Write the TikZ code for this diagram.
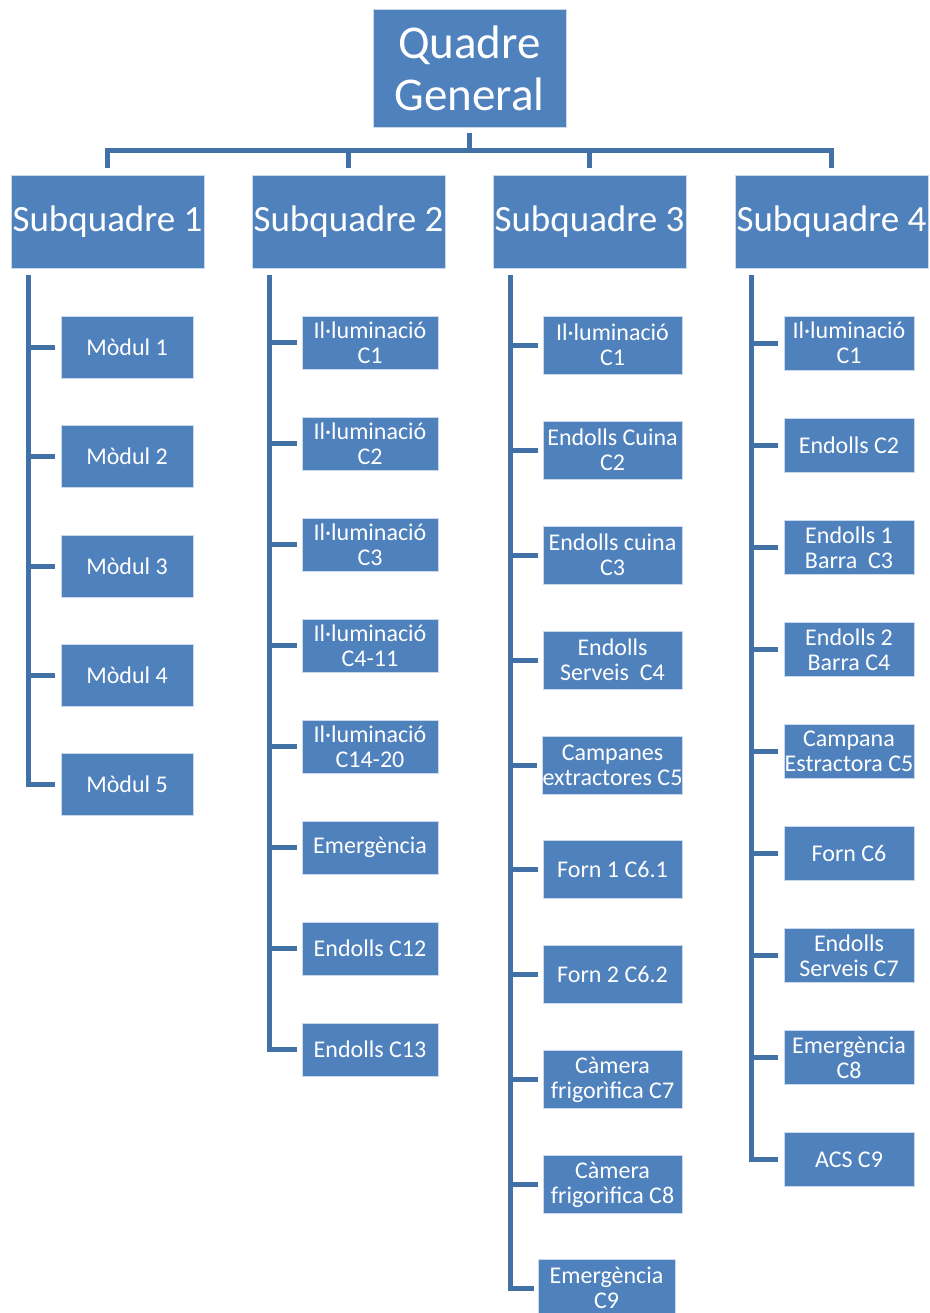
\documentclass[tikz,border=0pt]{standalone}
\usepackage{fontspec}
\setmainfont{Carlito}
\definecolor{boxblue}{HTML}{4F81BD}
\definecolor{lineblue}{HTML}{4271A8}
\begin{document}
\begin{tikzpicture}[x=1pt, y=-1pt,
  box/.style={draw=white!70!boxblue, line width=0.8pt, fill=boxblue, text=white,
    align=center, inner sep=0pt, font=\fontsize{24}{25}\selectfont},
  sqbox/.style={box, minimum width=193pt, minimum height=93pt, font=\fontsize{37}{40}\selectfont},
  colA/.style={box, minimum width=132pt, minimum height=62pt},
  colB/.style={box, minimum width=136pt, minimum height=53pt},
  colC/.style={box, minimum width=139pt, minimum height=58pt},
  colD/.style={box, minimum width=130pt, minimum height=54pt},
  conn/.style={draw=lineblue, line width=5pt}]
\useasboundingbox (0,0) rectangle (929,1313);

% Quadre general
\node[box, minimum width=193pt, minimum height=118pt, font=\fontsize{47}{52}\selectfont] (qg) at (469.5,68) {Quadre\\General};

% Subquadres
\node[sqbox] (sq1) at (107.5,221.5) {Subquadre 1};
\node[sqbox] (sq2) at (348.5,221.5) {Subquadre 2};
\node[sqbox] (sq3) at (589.5,221.5) {Subquadre 3};
\node[sqbox] (sq4) at (831.5,221.5) {Subquadre 4};

% Subquadre 1
\node[colA] (m1) at (127,347) {Mòdul 1};
\node[colA] (m2) at (127,456.5) {Mòdul 2};
\node[colA] (m3) at (127,566) {Mòdul 3};
\node[colA] (m4) at (127,675.5) {Mòdul 4};
\node[colA] (m5) at (127,784.5) {Mòdul 5};

% Subquadre 2
\node[colB] (b1) at (370,342.5) {Il·luminació\\C1};
\node[colB] (b2) at (370,443.5) {Il·luminació\\C2};
\node[colB] (b3) at (370,544.5) {Il·luminació\\C3};
\node[colB] (b4) at (370,645.5) {Il·luminació\\C4-11};
\node[colB] (b5) at (370,746.5) {Il·luminació\\C14-20};
\node[colB] (b6) at (370,847.5) {Emergència};
\node[colB] (b7) at (370,948.5) {Endolls C12};
\node[colB] (b8) at (370,1049.5) {Endolls C13};

% Subquadre 3
\node[colC] (c1) at (612.5,345) {Il·luminació\\C1};
\node[colC] (c2) at (612.5,450) {Endolls Cuina\\C2};
\node[colC] (c3) at (612.5,555) {Endolls cuina\\C3};
\node[colC] (c4) at (612.5,660) {Endolls\\Serveis\ \ C4};
\node[colC] (c5) at (612.5,765) {Campanes\\extractores C5};
\node[colC] (c6) at (612.5,869.5) {Forn 1 C6.1};
\node[colC] (c7) at (612.5,974.5) {Forn 2 C6.2};
\node[colC] (c8) at (612.5,1079.5) {Càmera\\frigorìfica C7};
\node[colC] (c9) at (612.5,1184.5) {Càmera\\frigorìfica C8};
\node[colC, minimum width=137pt] (c10) at (606.5,1288) {Emergència\\C9};

% Subquadre 4
\node[colD] (d1) at (849,343) {Il·luminació\\C1};
\node[colD] (d2) at (849,445) {Endolls C2};
\node[colD] (d3) at (849,547.5) {Endolls 1\\Barra\ \ C3};
\node[colD] (d4) at (849,649.5) {Endolls 2\\Barra C4};
\node[colD] (d5) at (849,751.5) {Campana\\Estractora C5};
\node[colD] (d6) at (849,853.5) {Forn C6};
\node[colD] (d7) at (849,955.5) {Endolls\\Serveis C7};
\node[colD] (d8) at (849,1057.5) {Emergència\\C8};
\node[colD] (d9) at (849,1159.5) {ACS C9};

% Connectors from the general board
\coordinate (bus) at (469.5,151);
\draw[conn, shorten <=6pt] (qg.south) -- (bus);
\draw[conn, shorten <=7pt, shorten >=7pt] (sq1.north) |- (bus) -| (sq4.north);
\draw[conn, shorten >=7pt] (bus -| sq2.north) -- (sq2.north);
\draw[conn, shorten >=7pt] (bus -| sq3.north) -- (sq3.north);

% Connectors to the circuits
\coordinate (v1) at ([xshift=17.5pt]sq1.south west);
\coordinate (v2) at ([xshift=17.5pt]sq2.south west);
\coordinate (v3) at ([xshift=17.5pt]sq3.south west);
\coordinate (v4) at ([xshift=17pt]sq4.south west);

\draw[conn, shorten <=7pt, shorten >=6pt] (v1) |- (m5.west);
\foreach \n in {m1,m2,m3,m4}
  \draw[conn, shorten >=6pt] (v1 |- \n.west) -- (\n.west);

\draw[conn, shorten <=7pt, shorten >=5pt] (v2) |- (b8.west);
\foreach \n in {b1,b2,b3,b4,b5,b6,b7}
  \draw[conn, shorten >=5pt] (v2 |- \n.west) -- (\n.west);

\draw[conn, shorten <=7pt, shorten >=4pt] (v3) |- (c10.west);
\foreach \n in {c1,c2,c3,c4,c5,c6,c7,c8,c9}
  \draw[conn, shorten >=5pt] (v3 |- \n.west) -- (\n.west);

\draw[conn, shorten <=7pt, shorten >=6pt] (v4) |- (d9.west);
\foreach \n in {d1,d2,d3,d4,d5,d6,d7,d8}
  \draw[conn, shorten >=6pt] (v4 |- \n.west) -- (\n.west);
\end{tikzpicture}
\end{document}
